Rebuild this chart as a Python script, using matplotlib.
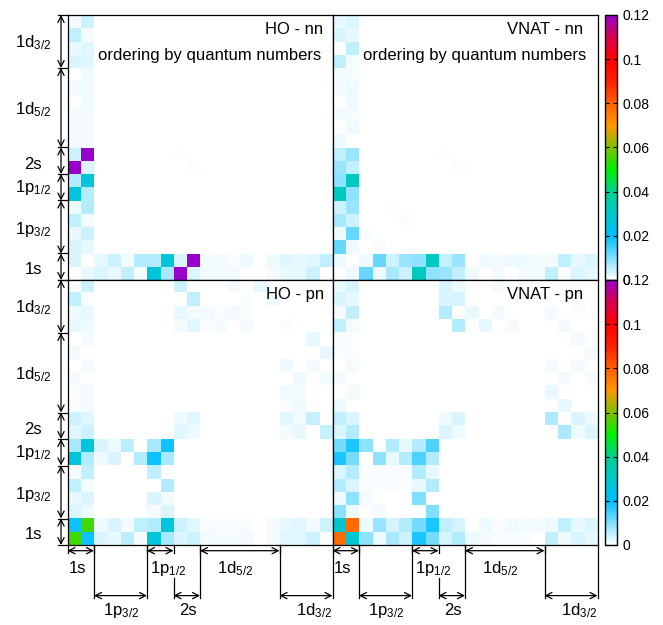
import numpy as np
import matplotlib
matplotlib.use("Agg")
import matplotlib.pyplot as plt
from matplotlib.colors import LinearSegmentedColormap
from matplotlib.ticker import FormatStrFormatter

plt.rcParams["font.family"] = ["Liberation Sans", "DejaVu Sans"]
plt.rcParams["mathtext.fontset"] = "custom"
plt.rcParams["mathtext.rm"] = "Liberation Sans"
plt.rcParams["mathtext.it"] = "Liberation Sans:italic"

# single-particle orbits (m-scheme block sizes), bottom/left first
ORBITS = ["1s", "1p3/2", "1p1/2", "2s", "1d5/2", "1d3/2"]
ORBIT_SIZE = [2, 4, 2, 2, 6, 4]
ORBIT_TEX = ["1s", "1p$_{3/2}$", "1p$_{1/2}$", "2s", "1d$_{5/2}$", "1d$_{3/2}$"]
BOTTOM_LEVEL = [1, 2, 1, 2, 1, 2]

CB_TICKS = [0, 0.02, 0.04, 0.06, 0.08, 0.1, 0.12]
PALETTE_POS = [0.0, 0.02, 0.03, 0.04, 0.05, 0.06, 0.07, 0.08, 0.09, 0.1, 0.11, 0.12]
PALETTE_COL = ["#ffffff", "#00bfff", "#00c8cc", "#00d090", "#00f000", "#80c000",
               "#ff9900", "#ff6000", "#ff2000", "#ff0000", "#d80050", "#9900cc"]

# matrices in units of 1e-3, rows listed from top (state 19) to bottom (state 0)
HO_NN = [
    [1, 4, 0, 0, 0, 0, 0, 0, 0, 0, 0, 0, 0, 0, 0, 0, 0, 0, 0, 0],
    [5, 1, 0, 0, 0, 0, 0, 0, 0, 0, 0, 0, 0, 0, 0, 0, 0, 0, 0, 0],
    [2, 2.5, 0, 0, 0, 0, 0, 0, 0, 0, 0, 0, 0, 0, 0, 0, 0, 0, 0, 0],
    [3, 2.5, 0, 0, 0, 0, 0, 0, 0, 0, 0, 0, 0, 0, 0, 0, 0, 0, 0, 0],
    [0, 1.5, 0, 0, 0, 0, 0, 0, 0, 0, 0, 0, 0, 0, 0, 0, 0, 0, 0, 0],
    [1, 1, 0, 0, 0, 0, 0, 0, 0, 0, 0, 0, 0, 0, 0, 0, 0, 0, 0, 0],
    [0.3, 1.5, 0, 0, 0, 0, 0, 0, 0, 0, 0, 0, 0, 0, 0, 0, 0, 0, 0, 0],
    [1, 1, 0, 0, 0, 0, 0, 0, 0, 0, 0, 0, 0, 0, 0, 0, 0, 0, 0, 0],
    [1, 1, 0, 0, 0, 0, 0, 0, 0, 0, 0, 0, 0, 0, 0, 0, 0, 0, 0, 0],
    [1, 1, 0, 0, 0, 0, 0, 0, 0, 0, 0, 0, 0, 0, 0, 0, 0, 0, 0, 0],
    [4, 120, 0, 0, 0, 0, 0, 0, 0.4, 0, 0, 0, 0, 0, 0, 0, 0, 0, 0, 0],
    [120, 3, 0, 0, 0, 0, 0, 0, 0, 0.5, 0, 0, 0, 0, 0, 0, 0, 0, 0, 0],
    [6, 27, 0, 0, 0, 0, 0, 0, 0, 0, 0, 0, 0, 0, 0, 0, 0, 0, 0, 0],
    [27, 6, 0, 0, 0, 0, 0, 0, 0, 0, 0, 0, 0, 0, 0, 0, 0, 0, 0, 0],
    [1.5, 6, 0, 0, 0, 0, 0, 0, 0, 0, 0, 0, 0, 0, 0, 0, 0, 0, 0, 0],
    [5, 1, 0, 0, 0, 0, 0, 0, 0, 0, 0, 0, 0, 0, 0, 0, 0, 0, 0, 0],
    [2, 4, 0, 0, 0, 0, 0, 0, 0, 0, 0, 0, 0, 0, 0, 0, 0, 0, 0, 0],
    [3, 2, 0, 0, 0, 0, 0, 0, 0, 0, 0, 0, 0, 0, 0, 0, 0, 0, 0, 0],
    [3, 0, 2, 4, 1, 6, 6, 27, 3, 120, 1, 1, 0.5, 1.5, 0, 1.5, 2.5, 2, 2.5, 5],
    [0, 2, 3, 2, 5, 1, 27, 7, 120, 3, 1, 1, 1, 0.3, 0, 1, 2, 2, 4, 0],
]

VNAT_NN = [
    [2, 3, 0, 0, 0, 0, 0, 0, 0, 0, 0, 0, 0, 0, 0, 0, 0, 0, 0, 0],
    [3, 2, 0, 0, 0, 0, 0, 0, 0, 0, 0, 0, 0, 0, 0, 0, 0, 0, 0, 0],
    [0.5, 5, 0, 0, 0, 0, 0, 0, 0, 0, 0, 0, 0, 0, 0, 0, 0, 0, 0, 0],
    [5, 1, 0, 0, 0, 0, 0, 0, 0, 0, 0, 0, 0, 0, 0, 0, 0, 0, 0, 0],
    [1, 1, 0, 0, 0, 0, 0, 0, 0, 0, 0, 0, 0, 0, 0, 0, 0, 0, 0, 0],
    [1, 1.5, 0, 0, 0, 0, 0, 0, 0, 0, 0, 0, 0, 0, 0, 0, 0, 0, 0, 0],
    [0, 1.5, 0, 0, 0, 0, 0, 0, 0, 0, 0, 0, 0, 0, 0, 0, 0, 0, 0, 0],
    [1, 1, 0, 0, 0, 0, 0, 0, 0, 0, 0, 0, 0, 0, 0, 0, 0, 0, 0, 0],
    [0, 1.5, 0, 0, 0, 0, 0, 0, 0, 0, 0, 0, 0, 0, 0, 0, 0, 0, 0, 0],
    [1.5, 0, 0, 0, 0, 0, 0, 0, 0, 0, 0, 0, 0, 0, 0, 0, 0, 0, 0, 0],
    [5, 8, 0, 0, 0, 0, 0, 0, 0.4, 0, 0, 0, 0, 0, 0, 0, 0, 0, 0, 0],
    [8, 5, 0, 0, 0, 0, 0, 0, 0, 0.5, 0, 0, 0, 0, 0, 0, 0, 0, 0, 0],
    [9, 32, 0, 0, 0, 0, 0, 0, 0, 0, 0, 0, 0, 0, 0, 0, 0, 0, 0, 0],
    [32, 9, 0, 0, 0, 0, 0, 0, 0, 0, 0, 0, 0, 0, 0, 0, 0, 0, 0, 0],
    [4, 8, 0, 0, 0.6, 0, 0, 0, 0, 0, 0, 0, 0, 0, 0, 0, 0, 0, 0, 0],
    [7, 4, 0, 0, 0, 0.6, 0, 0, 0, 0, 0, 0, 0, 0, 0, 0, 0, 0, 0, 0],
    [1.5, 12, 0.6, 0, 0, 0, 0, 0, 0, 0, 0, 0, 0, 0, 0, 0, 0, 0, 0, 0],
    [12, 1.5, 0, 0.6, 0, 0, 0, 0, 0, 0, 0, 0, 0, 0, 0, 0, 0, 0, 0, 0],
    [1.5, 0, 1.5, 12, 4, 8, 9, 32, 4.5, 8, 0, 1.5, 1, 1.5, 1.5, 1, 1, 5, 2, 3],
    [0, 1.5, 12, 1.5, 7, 4, 32, 9, 8, 5, 1.5, 0, 1, 0, 1, 1, 5, 0.5, 3, 2],
]

HO_PN = [
    [0.5, 4, 0, 0, 0, 0, 0, 0, 4, 0, 0, 0, 1, 0, 2, 0, 0, 0, 0, 0],
    [5, 0.5, 0, 0, 0, 0, 0, 0, 0, 5, 0, 0, 0, 0.5, 0, 1.5, 0, 0, 0, 0],
    [1.5, 2, 0, 0, 0, 0, 0, 0, 2, 1, 1, 0.5, 1, 0.5, 0, 0, 0, 0, 0, 0],
    [2, 1.5, 0, 0, 0, 0, 0, 0, 1, 2.5, 0.7, 1, 0, 1, 0, 0, 0.5, 0, 0, 0],
    [0, 1, 0, 0, 0, 0, 0, 0, 0, 0, 0, 0, 0, 0, 0, 0, 0, 0, 2, 0],
    [1, 0, 0, 0, 0, 0, 0, 0, 0, 0, 0, 0, 0, 0, 0, 0, 0, 0, 0, 2],
    [0, 1, 0, 0, 0, 0, 0, 0, 0, 0, 0, 0, 0, 0, 0, 0, 1.5, 0, 1, 0],
    [1, 0, 0, 0, 0, 0, 0, 0, 0, 0, 0, 0, 0, 0, 0, 0, 0, 1.5, 0, 1],
    [0.5, 1, 0, 0, 0, 0, 0, 0, 0, 0, 0, 0, 0, 0, 0, 0, 1.5, 1, 0, 0],
    [0.5, 1, 0, 0, 0, 0, 0, 0, 0, 0, 0, 0, 0, 0, 0, 0, 0.5, 1.5, 0, 0],
    [4, 2.5, 0, 0, 0, 0, 0, 0, 1.5, 2.5, 0, 0, 0, 0, 0, 0, 2.5, 1, 4.5, 0],
    [2.5, 4, 0, 0, 0, 0, 0, 0, 2.5, 1.5, 0, 0, 0, 0, 0, 0, 1, 2, 0, 4.5],
    [7, 27, 3, 1.5, 5.5, 0, 7, 19, 0, 0, 0, 0, 0, 0, 0, 0, 0, 0, 0, 0],
    [27, 6, 1.5, 3, 0, 6, 19, 7, 0, 0, 0, 0, 0, 0, 0, 0, 0, 0, 0, 0],
    [1, 5, 0, 0, 0, 0, 5, 0, 0, 0, 0, 0, 0, 0, 0, 0, 0, 0, 0, 0],
    [5, 1, 0, 0, 0, 0, 0, 6, 0, 0, 0, 0, 0, 0, 0, 0, 0, 0, 0, 0],
    [2, 3, 0, 0, 0, 0, 3, 1, 0, 0, 0, 0, 0, 0, 0, 0, 0, 0, 0, 0],
    [3, 1.5, 0, 0, 0, 0, 1, 3, 0, 0, 0, 0, 0, 0, 0, 0, 0, 0, 0, 0],
    [19, 55, 1.5, 3, 1, 5, 6, 27, 4, 2.5, 0.5, 0.5, 0.5, 0.5, 0, 1, 2, 2.5, 1, 4],
    [55, 19, 3, 2, 5.5, 1, 27, 7, 3, 4, 1, 1, 1, 1, 0, 1, 2.5, 2.5, 4, 0.5],
]

VNAT_PN = [
    [2, 3.5, 0, 0, 0, 0, 0, 0, 3.5, 1.5, 0, 0, 1, 0, 0, 0, 0, 0, 0, 0],
    [3, 2, 0, 0, 0, 0, 0, 0, 3, 3.5, 0, 0, 0, 0, 0, 0, 0, 0, 0.5, 0],
    [1, 5, 0, 0, 0, 0, 0, 0, 6, 0, 2, 0, 1, 0, 0, 0, 1, 0, 0.5, 0],
    [5, 1, 0, 0, 0, 0, 0, 0, 0, 6, 0, 2, 0, 1, 0, 0, 0, 1, 0, 0],
    [0.5, 0.5, 0, 0, 0, 0, 0, 0, 0, 0, 0, 0, 0, 0, 0, 0, 0, 0, 1, 0],
    [0.5, 0.5, 0, 0, 0, 0, 0, 0, 0, 0, 0, 0, 0, 0, 0, 0, 0, 0, 0, 1],
    [0, 1, 0, 0, 0, 0, 0, 0, 0, 0, 0, 0, 0, 0, 0, 0, 1, 0, 1, 0],
    [1, 0, 0, 0, 0, 0, 0, 0, 0, 0, 0, 0, 0, 0, 0, 0, 0, 1, 0, 1],
    [0, 1, 0, 0, 0, 0, 0, 0, 0, 0, 0, 0, 0, 0, 0, 0, 2, 0, 0, 0],
    [1.5, 0, 0, 0, 0, 0, 0, 0, 0, 0, 0, 0, 0, 0, 0, 0, 0, 2, 0, 0],
    [5, 3, 0, 0, 0, 0, 0, 0, 1.5, 3, 0, 0, 0, 0, 0, 0, 6.5, 0, 3, 1.5],
    [3, 6, 0, 0, 0, 0, 0, 0, 3, 1.5, 0, 0, 0, 0, 0, 0, 0, 6.5, 1.5, 3],
    [11, 18, 9, 0, 6, 2, 6, 14, 0, 0, 0, 0, 0, 0, 0, 0, 0, 0, 0, 0],
    [18, 11, 0, 9, 2, 6, 14, 6, 0, 0, 0, 0, 0, 0, 0, 0, 0, 0, 0, 0],
    [3, 6, 0.5, 0.5, 0.7, 0.5, 6, 2, 0, 0, 0, 0, 0, 0, 0, 0, 0, 0, 0, 0],
    [6, 3, 0.5, 0.5, 0.5, 0.5, 2, 6, 0, 0, 0, 0, 0, 0, 0, 0, 0, 0, 0, 0],
    [1.5, 9, 1, 0, 0, 0, 10, 0, 0, 0, 0, 0, 0, 0, 0, 0, 0, 0, 0, 0],
    [9, 1.5, 0, 1, 0, 0, 0, 10, 0, 0, 0, 0, 0, 0, 0, 0, 0, 0, 0, 0],
    [29, 78, 1.5, 8, 3.5, 6, 11, 18, 5, 3.5, 0, 1.5, 0.5, 1.5, 1, 1, 1.5, 5, 2, 3],
    [78, 29, 9, 1.5, 7, 4, 18, 11, 3.5, 6, 1.5, 1, 0.5, 0.5, 0.5, 0, 5, 1.5, 3, 2],
]

W, H = 663, 625
PX = 0.72  # points per pixel at dpi 100

cmap = LinearSegmentedColormap.from_list(
    "gp", list(zip(np.array(PALETTE_POS) / PALETTE_POS[-1], PALETTE_COL)), N=512)
bounds = np.concatenate([[0], np.cumsum(ORBIT_SIZE)])
n = bounds[-1]
arrow = dict(arrowstyle="<->,head_length=0.55,head_width=0.28", lw=0.9,
             color="black", shrinkA=0, shrinkB=0, mutation_scale=8)

# bottom label nudges (px), as placed in the original figure
BOTTOM_DX = {"1s": -3, "1p3/2": 0.5, "1p1/2": 8, "2s": 1.5, "1d5/2": -5, "1d3/2": 8}
LEFT_DY = {"1s": 6.8, "1p3/2": 6.7, "1p1/2": 5, "2s": 8.3, "1d5/2": 6.6, "1d3/2": 5.9}


def add_px_axes(fig, x0, y0, w, h):
    return fig.add_axes([x0 / W, 1 - (y0 + h) / H, w / W, h / H])


def left_brackets(ax):
    tr = ax.get_yaxis_transform()
    for b in bounds:
        ax.plot([-0.034, 0], [b, b], transform=tr, color="k", lw=0.9, clip_on=False)
    for i, lab in enumerate(ORBIT_TEX):
        ax.annotate("", xy=(-0.0245, bounds[i]), xytext=(-0.0245, bounds[i + 1]),
                    xycoords=tr, textcoords=tr, arrowprops=arrow, annotation_clip=False)
        ax.annotate(lab, xy=(-0.13, (bounds[i] + bounds[i + 1]) / 2), xycoords=tr,
                    xytext=(0, -LEFT_DY[ORBITS[i]] * PX), textcoords="offset points",
                    ha="center", va="baseline", fontsize=12, annotation_clip=False)


def bottom_brackets(ax):
    tr = ax.get_xaxis_transform()
    for i, lab in enumerate(ORBIT_TEX):
        x0, x1 = bounds[i], bounds[i + 1]
        if BOTTOM_LEVEL[i] == 1:
            ya, yend, ylab = -0.0215, -0.030, -0.1057
        else:
            ya, yend, ylab = -0.191, -0.200, -0.266
        top_left = -0.1245 if ORBITS[i] == "2s" else 0
        ax.plot([x0, x0], [top_left, yend], transform=tr, color="k", lw=0.9, clip_on=False)
        ax.plot([x1, x1], [0, yend], transform=tr, color="k", lw=0.9, clip_on=False)
        ax.annotate("", xy=(x0, ya), xytext=(x1, ya), xycoords=tr, textcoords=tr,
                    arrowprops=arrow, annotation_clip=False)
        ax.annotate(lab, xy=((x0 + x1) / 2, ylab), xycoords=tr,
                    xytext=(BOTTOM_DX[ORBITS[i]] * PX, 0), textcoords="offset points",
                    ha="center", va="baseline", fontsize=12, annotation_clip=False)


fig = plt.figure(figsize=(W / 100, H / 100), dpi=100)

panels = [
    (HO_NN, "HO - nn", 0.964, True, 67.5, 15),
    (VNAT_NN, "VNAT - nn", 0.944, True, 332.5, 15),
    (HO_PN, "HO - pn", 0.968, False, 67.5, 280),
    (VNAT_PN, "VNAT - pn", 0.946, False, 332.5, 280),
]

images = []
for mat, title, tx, is_nn, x0, y0 in panels:
    ax = add_px_axes(fig, x0, y0, 265, 265)
    data = np.flipud(np.array(mat, dtype=float)) * 1e-3
    im = ax.imshow(data, origin="lower", cmap=cmap, vmin=0, vmax=0.12,
                   extent=(0, n, 0, n), aspect="auto", interpolation="nearest")
    images.append(im)
    ax.set_xticks([])
    ax.set_yticks([])
    for sp in ax.spines.values():
        sp.set_linewidth(0.9)
        sp.set_color("black")
    ax.text(tx, 0.928, title, transform=ax.transAxes, ha="right", va="baseline", fontsize=12)
    if is_nn:
        ax.text(0.959, 0.830, "ordering by quantum numbers", transform=ax.transAxes,
                ha="right", va="baseline", fontsize=12)
    if x0 < 100:
        left_brackets(ax)
    if not is_nn:
        bottom_brackets(ax)
    ax.set_xlim(0, n)
    ax.set_ylim(0, n)

for im, y0 in [(images[0], 15), (images[2], 280)]:
    cax = add_px_axes(fig, 605, y0, 12, 265)
    cb = fig.colorbar(im, cax=cax, ticks=CB_TICKS, format=FormatStrFormatter("%g"))
    cb.outline.set_linewidth(1.0)
    cax.tick_params(which="both", direction="in", length=3, width=0.8,
                    labelsize=10, left=True, right=True, pad=4.3)

fig.savefig("out.png", dpi=100)
